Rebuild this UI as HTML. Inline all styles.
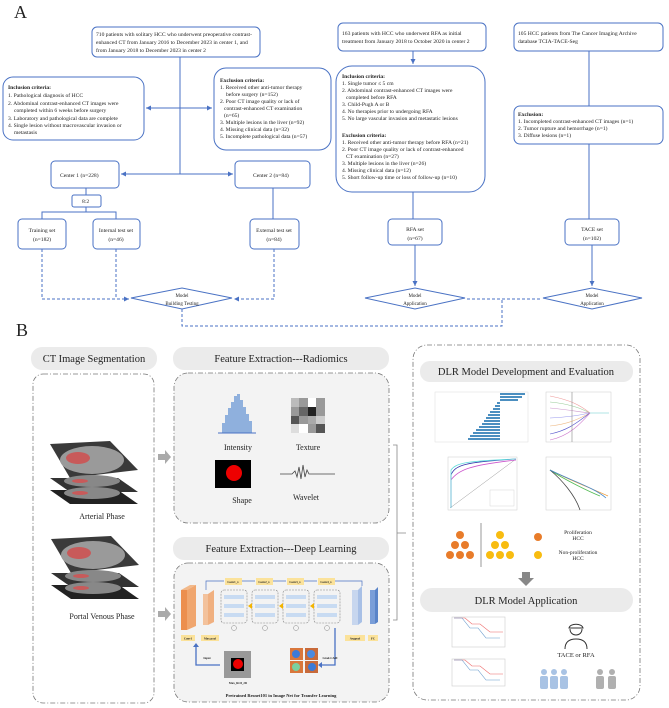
<!DOCTYPE html>
<html><head><meta charset="utf-8"><style>
html,body{margin:0;padding:0;background:#fff}
svg{display:block}
text{font-family:"Liberation Serif",serif;fill:#222}
</style></head><body>
<svg width="669" height="708" viewBox="0 0 669 708" xmlns="http://www.w3.org/2000/svg">
<defs>
<marker id="ar" markerWidth="6" markerHeight="6" refX="5" refY="3" orient="auto"><path d="M0,0.5 L5,3 L0,5.5 z" fill="#4a72c4"/></marker>
</defs>
<text x="14" y="18" font-size="18">A</text>
<g fill="#fff" stroke="#4a72c4" stroke-width="1">
<rect x="92" y="27" width="168" height="30" rx="5"/>
<rect x="3" y="77" width="141" height="63" rx="10"/>
<rect x="214" y="68" width="117" height="82" rx="12"/>
<rect x="51" y="161" width="68" height="27" rx="4"/>
<rect x="235" y="161" width="75" height="27" rx="4"/>
<rect x="72" y="195" width="29" height="12" rx="2"/>
<rect x="18" y="219" width="48" height="30" rx="4"/>
<rect x="93" y="219" width="47" height="30" rx="4"/>
<rect x="250" y="219" width="49" height="30" rx="4"/>
<rect x="338" y="23" width="148" height="28" rx="5"/>
<rect x="336" y="66" width="149" height="126" rx="16"/>
<rect x="388" y="219" width="54" height="26" rx="4"/>
<rect x="514" y="23" width="149" height="28" rx="5"/>
<rect x="514" y="106" width="149" height="38" rx="6"/>
<rect x="565" y="219" width="54" height="26" rx="4"/>
<polygon points="131,298 182,288 232,298 182,309"/>
<polygon points="365,298 415,288 465,298 415,309"/>
<polygon points="543,298 592,288 642,298 592,309"/>
</g>
<g stroke="#4a72c4" stroke-width="1" fill="none">
<line x1="180" y1="57" x2="180" y2="174"/>
<line x1="180" y1="108" x2="146" y2="108" marker-end="url(#ar)"/>
<line x1="180" y1="108" x2="212" y2="108" marker-end="url(#ar)"/>
<line x1="180" y1="174" x2="121" y2="174" marker-end="url(#ar)"/>
<line x1="180" y1="174" x2="233" y2="174" marker-end="url(#ar)"/>
<line x1="86" y1="188" x2="86" y2="195"/>
<path d="M86,207 V212 M42,219 V212 H116 V219"/>
<line x1="273" y1="188" x2="273" y2="219"/>
<line x1="413" y1="51" x2="413" y2="64" marker-end="url(#ar)"/>
<line x1="413" y1="192" x2="413" y2="219"/>
<line x1="589" y1="51" x2="589" y2="106"/>
<line x1="589" y1="144" x2="589" y2="219"/>
<line x1="415" y1="245" x2="415" y2="286" marker-end="url(#ar)"/>
<line x1="592" y1="245" x2="592" y2="286" marker-end="url(#ar)"/>
<g stroke-dasharray="3,2">
<path d="M42,249 V299 H129" marker-end="url(#ar)"/>
<path d="M116,249 V299"/>
<path d="M274,249 V299 H234" marker-end="url(#ar)"/>
<path d="M182,309 V326 H502 V299"/>
<path d="M467,299 H541"/>
</g>
</g>
<g font-size="5.6">
<text x="96" y="36">710 patients with solitary HCC who underwent preoperative contrast-</text>
<text x="96" y="44">enhanced CT from January 2016 to December 2023 in center 1,  and</text>
<text x="96" y="52">from January 2018 to December 2023 in center 2</text>
<text x="8" y="89" font-weight="bold">Inclusion criteria:</text>
<text x="8" y="97">1. Pathological diagnosis of HCC</text>
<text x="8" y="105">2. Abdominal contrast-enhanced CT images were</text>
<text x="14" y="112">completed within 6 weeks before surgery</text>
<text x="8" y="120">3. Laboratory and pathological data are complete</text>
<text x="8" y="127">4. Single lesion without macrovascular invasion or</text>
<text x="14" y="134">metastasis</text>
<text x="220" y="82" font-weight="bold">Exclusion criteria:</text>
<text x="220" y="89">1. Received other anti-tumor therapy</text>
<text x="226" y="96">before surgery (n=152)</text>
<text x="220" y="103">2. Poor CT image quality or lack of</text>
<text x="224" y="110">contrast-enhanced CT examination</text>
<text x="224" y="117">(n=65)</text>
<text x="220" y="124">3. Multiple lesions in the liver (n=92)</text>
<text x="220" y="131">4. Missing clinical data (n=32)</text>
<text x="220" y="138">5. Incomplete pathological data (n=57)</text>
<text x="60" y="177">Center 1   (n=228)</text>
<text x="253" y="177">Center 2 (n=84)</text>
<text x="82" y="203">8:2</text>
<text x="42" y="232" text-anchor="middle">Training set</text>
<text x="42" y="241" text-anchor="middle">(n=182)</text>
<text x="116" y="232" text-anchor="middle">Internal test set</text>
<text x="116" y="241" text-anchor="middle">(n=46)</text>
<text x="274" y="232" text-anchor="middle">External test set</text>
<text x="274" y="241" text-anchor="middle">(n=84)</text>
<text x="342" y="35">163 patients with HCC who underwent RFA as initial</text>
<text x="342" y="43">treatment from January 2018 to October 2020 in center 2</text>
<text x="342" y="78" font-weight="bold">Inclusion criteria:</text>
<text x="342" y="85">1. Single tumor ≤ 5 cm</text>
<text x="342" y="92">2. Abdominal contrast-enhanced CT images were</text>
<text x="346" y="99">completed before RFA</text>
<text x="342" y="106">3. Child-Pugh A or B</text>
<text x="342" y="113">4. No therapies prior to undergoing RFA</text>
<text x="342" y="120">5. No large vascular invasion and metastatic lesions</text>
<text x="342" y="137" font-weight="bold">Exclusion criteria:</text>
<text x="342" y="144">1. Received other anti-tumor therapy before RFA (n=21)</text>
<text x="342" y="151">2. Poor CT image quality or lack of contrast-enhanced</text>
<text x="346" y="158">CT examination (n=27)</text>
<text x="342" y="165">3. Multiple lesions in the liver (n=26)</text>
<text x="342" y="172">4. Missing clinical data (n=12)</text>
<text x="342" y="179">5. Short follow-up time or loss of follow-up (n=10)</text>
<text x="518" y="35">105 HCC patients from The Cancer Imaging Archive</text>
<text x="518" y="43">database TCIA-TACE-Seg</text>
<text x="518" y="116" font-weight="bold">Exclusion:</text>
<text x="518" y="123">1. Incompleted contrast-enhanced CT images (n=1)</text>
<text x="518" y="130">2. Tumor rupture and hemorrhage  (n=1)</text>
<text x="518" y="137">3. Diffuse lesions (n=1)</text>
<text x="415" y="231" text-anchor="middle">RFA set</text>
<text x="415" y="240" text-anchor="middle">(n=67)</text>
<text x="592" y="231" text-anchor="middle">TACE set</text>
<text x="592" y="240" text-anchor="middle">(n=102)</text>
<text x="182" y="297" text-anchor="middle" font-size="5">Model</text>
<text x="182" y="305" text-anchor="middle" font-size="5">Building Testing</text>
<text x="415" y="297" text-anchor="middle" font-size="5">Model</text>
<text x="415" y="305" text-anchor="middle" font-size="5">Application</text>
<text x="592" y="297" text-anchor="middle" font-size="5">Model</text>
<text x="592" y="305" text-anchor="middle" font-size="5">Application</text>
</g>

<!-- Panel B -->
<text x="16" y="336" font-size="18">B</text>
<g stroke="#777" stroke-width="0.8" stroke-dasharray="5,2,1,2">
<rect x="33" y="374" width="121" height="329" rx="10" fill="#fff"/>
<rect x="174" y="373" width="215" height="150" rx="14" fill="#f3f3f3"/>
<rect x="174" y="563" width="215" height="139" rx="14" fill="#f3f3f3"/>
<rect x="413" y="345" width="227" height="355" rx="14" fill="#fff"/>
</g>
<g fill="#ebebeb">
<rect x="31" y="347" width="126" height="23" rx="11"/>
<rect x="173" y="347" width="216" height="23" rx="11"/>
<rect x="173" y="537" width="216" height="23" rx="11"/>
<rect x="420" y="361" width="213" height="21" rx="10"/>
<rect x="420" y="588" width="213" height="24" rx="12"/>
</g>
<g font-size="10.5" text-anchor="middle">
<text x="94" y="362">CT Image Segmentation</text>
<text x="281" y="362">Feature Extraction---Radiomics</text>
<text x="281" y="552">Feature Extraction---Deep Learning</text>
<text x="526" y="375">DLR Model Development and Evaluation</text>
<text x="526" y="604">DLR Model Application</text>
</g>
<!-- bracket -->
<path d="M393,445 H397 V620 H393 M397,533 H406" stroke="#888" fill="none" stroke-width="0.8"/>
<!-- gray arrows -->
<path d="M158,454 h7 v-4 l6,7 l-6,7 v-4 h-7z" fill="#aaa"/>
<path d="M158,611 h7 v-4 l6,7 l-6,7 v-4 h-7z" fill="#aaa"/>
<path d="M522,572 h8 v6 h4 l-8,8 l-8,-8 h4z" fill="#888"/>
<!-- CT stacks -->
<g>
<polygon points="50,490 118,490 138,504 70,504" fill="#222"/>
<polygon points="50,478 118,478 138,492 70,492" fill="#333"/>
<polygon points="50,444 110,441 138,470 70,478" fill="#3a3a3a"/>
<ellipse cx="92" cy="460" rx="32" ry="14" fill="#9a9a9a"/>
<ellipse cx="78" cy="458" rx="12" ry="6" fill="#c85a5a"/>
<ellipse cx="92" cy="481" rx="28" ry="6" fill="#888"/>
<ellipse cx="80" cy="481" rx="8" ry="2" fill="#c85a5a"/>
<ellipse cx="92" cy="493" rx="28" ry="6" fill="#888"/>
<ellipse cx="80" cy="493" rx="8" ry="2" fill="#c85a5a"/>
</g>
<g transform="translate(1,95)">
<polygon points="50,490 118,490 138,504 70,504" fill="#222"/>
<polygon points="50,478 118,478 138,492 70,492" fill="#333"/>
<polygon points="50,444 110,441 138,470 70,478" fill="#3a3a3a"/>
<ellipse cx="92" cy="460" rx="32" ry="14" fill="#9a9a9a"/>
<ellipse cx="78" cy="458" rx="12" ry="6" fill="#c85a5a"/>
<ellipse cx="92" cy="481" rx="28" ry="6" fill="#888"/>
<ellipse cx="80" cy="481" rx="8" ry="2" fill="#c85a5a"/>
<ellipse cx="92" cy="493" rx="28" ry="6" fill="#888"/>
<ellipse cx="80" cy="493" rx="8" ry="2" fill="#c85a5a"/>
</g>
<g font-size="8" text-anchor="middle">
<text x="102" y="519">Arterial Phase</text>
<text x="102" y="619">Portal Venous Phase</text>
<text x="238" y="450">Intensity</text>
<text x="308" y="450">Texture</text>
<text x="242" y="503">Shape</text>
<text x="306" y="500">Wavelet</text>
</g>
<!-- histogram -->
<g fill="#8fb0dd">
<rect x="222" y="423" width="3" height="10"/><rect x="225" y="415" width="3" height="18"/><rect x="228" y="408" width="3" height="25"/>
<rect x="231" y="402" width="3" height="31"/><rect x="234" y="396" width="3" height="37"/><rect x="237" y="394" width="3" height="39"/>
<rect x="240" y="400" width="3" height="33"/><rect x="243" y="407" width="3" height="26"/><rect x="246" y="414" width="3" height="19"/>
<rect x="249" y="421" width="3" height="12"/>
</g>
<line x1="218" y1="433" x2="256" y2="433" stroke="#4a72c4"/>
<!-- texture -->
<g>
<rect x="291" y="398" width="34" height="35" fill="#999"/>
<rect x="291" y="398" width="8" height="9" fill="#bbb"/><rect x="308" y="398" width="8" height="9" fill="#fff"/>
<rect x="299" y="407" width="9" height="9" fill="#666"/><rect x="308" y="407" width="8" height="9" fill="#222"/>
<rect x="291" y="416" width="8" height="8" fill="#555"/><rect x="316" y="416" width="9" height="8" fill="#ccc"/>
<rect x="299" y="424" width="9" height="9" fill="#fff"/><rect x="316" y="424" width="9" height="9" fill="#555"/>
<rect x="291" y="424" width="8" height="9" fill="#ddd"/><rect x="308" y="416" width="8" height="8" fill="#aaa"/>
</g>
<rect x="215" y="460" width="36" height="28" fill="#000"/>
<circle cx="234" cy="473" r="8" fill="#e00"/>
<path d="M280,474 H292 l3,-3 l2,6 l2,-10 l2,12 l2,-14 l2,12 l2,-7 l2,4 H335" stroke="#444" fill="none" stroke-width="0.8"/>
<!-- DL network -->
<g>
<polygon points="181,590 190,585 196,585 187,590" fill="#f2b98a"/>
<rect x="181" y="590" width="6" height="40" fill="#ec8f4e"/>
<polygon points="187,590 196,585 196,626 187,630" fill="#f0a66e"/>
<rect x="203" y="594" width="5" height="31" fill="#f3c29c"/>
<polygon points="208,594 214,590 214,622 208,625" fill="#f0b080"/>
<rect x="352" y="590" width="6" height="35" fill="#c7d6ee"/>
<polygon points="358,590 362,586 362,622 358,625" fill="#a8c0e6"/>
<rect x="370" y="590" width="5" height="34" fill="#7a9ed8"/>
<polygon points="375,590 378,587 378,622 375,624" fill="#5a84c8"/>
<g fill="#fbe29a">
<rect x="181" y="635" width="14" height="6"/><rect x="201" y="635" width="18" height="6"/>
<rect x="345" y="635" width="20" height="6"/><rect x="368" y="635" width="10" height="6"/>
<rect x="225" y="578" width="17" height="7"/><rect x="256" y="578" width="17" height="7"/>
<rect x="287" y="578" width="17" height="7"/><rect x="318" y="578" width="17" height="7"/>
</g>
<g fill="none" stroke="#888" stroke-width="0.6" stroke-dasharray="2,1">
<rect x="221" y="590" width="26" height="33" rx="3"/><rect x="252" y="590" width="26" height="33" rx="3"/>
<rect x="283" y="590" width="26" height="33" rx="3"/><rect x="314" y="590" width="26" height="33" rx="3"/>
</g>
<g fill="#c8dbf2">
<rect x="224" y="595" width="20" height="4"/><rect x="224" y="604" width="20" height="4"/><rect x="224" y="613" width="20" height="4"/>
<rect x="255" y="595" width="20" height="4"/><rect x="255" y="604" width="20" height="4"/><rect x="255" y="613" width="20" height="4"/>
<rect x="286" y="595" width="20" height="4"/><rect x="286" y="604" width="20" height="4"/><rect x="286" y="613" width="20" height="4"/>
<rect x="317" y="595" width="20" height="4"/><rect x="317" y="604" width="20" height="4"/><rect x="317" y="613" width="20" height="4"/>
</g>
<g fill="none" stroke="#888" stroke-width="0.5">
<circle cx="234" cy="628" r="2.5"/><circle cx="265" cy="628" r="2.5"/><circle cx="296" cy="628" r="2.5"/><circle cx="327" cy="628" r="2.5"/>
</g>
<g fill="#f3b400"><path d="M248,606 l4,-3 v6z"/><path d="M279,606 l4,-3 v6z"/><path d="M310,606 l4,-3 v6z"/></g>
<path d="M206,590 V581 H224 M242,581 H255 M273,581 H286 M304,581 H317 M335,581 H362 V586" stroke="#4a72c4" fill="none" stroke-width="0.7"/>
<path d="M335,628 V665 H322" stroke="#4a72c4" fill="none" stroke-width="1.3"/>
<path d="M220,665 H196 V645" stroke="#4a72c4" fill="none" stroke-width="1.3"/>
<path d="M193,647 l3,-4 l3,4z M322,662 l-4,3 l4,3z" fill="#4a72c4"/>
<rect x="224" y="651" width="27" height="27" fill="#999"/>
<rect x="231" y="658" width="13" height="13" fill="#000"/>
<circle cx="238" cy="664" r="5" fill="#e00"/>
<rect x="290" y="648" width="13" height="12" fill="#d9773c"/><rect x="305" y="648" width="13" height="12" fill="#c86a3a"/>
<rect x="290" y="661" width="13" height="12" fill="#d9773c"/><rect x="305" y="661" width="13" height="12" fill="#c86a3a"/>
<circle cx="296" cy="654" r="4" fill="#3a7ad8"/><circle cx="311" cy="654" r="4" fill="#4a8ae0"/>
<circle cx="296" cy="667" r="4" fill="#7ad0a0"/><circle cx="312" cy="667" r="4" fill="#3a7ad8"/>
<g font-size="3" font-weight="bold" text-anchor="middle">
<text x="188" y="639.5">Conv1</text><text x="210" y="639.5">Max pool</text><text x="355" y="639.5">Avgpool</text><text x="373" y="639.5">FC</text>
<text x="233" y="583">Conv1_x</text><text x="264" y="583">Conv2_x</text><text x="295" y="583">Conv3_x</text><text x="326" y="583">Conv4_x</text>
<text x="207" y="659">Input</text><text x="238" y="684">Max_ROI_2D</text><text x="330" y="659">Grad-CAM</text>
</g>
<text x="281" y="697" font-size="4.5" font-weight="bold" text-anchor="middle">Pretrained Resnet101 in Image Net for Transfer Learning</text>
</g>
<!-- charts -->
<g>
<rect x="435" y="392" width="93" height="50" fill="#fff" stroke="#ddd" stroke-width="0.5"/>
<g fill="#4c8fc0">
<rect x="500" y="393" width="25" height="2"/><rect x="500" y="396" width="22" height="2"/><rect x="500" y="399" width="18" height="2"/>
<rect x="497" y="402" width="3" height="2"/><rect x="495" y="405" width="5" height="2"/><rect x="493" y="408" width="7" height="2"/>
<rect x="490" y="411" width="10" height="2"/><rect x="488" y="414" width="12" height="2"/><rect x="486" y="417" width="14" height="2"/>
<rect x="484" y="420" width="16" height="2"/><rect x="482" y="423" width="18" height="2"/><rect x="479" y="426" width="21" height="2"/>
<rect x="476" y="429" width="24" height="2"/><rect x="473" y="432" width="27" height="2"/><rect x="470" y="435" width="30" height="2"/><rect x="468" y="438" width="32" height="2"/>
</g>
<rect x="546" y="392" width="65" height="50" fill="#fff" stroke="#ccc" stroke-width="0.5"/>
<g fill="none" stroke-width="0.6">
<path d="M550,396 C570,400 580,405 590,413" stroke="#e99"/><path d="M550,402 C570,404 580,408 590,413" stroke="#9c9"/>
<path d="M550,408 C570,410 580,412 590,413" stroke="#c9c"/><path d="M550,418 C570,417 580,415 590,413" stroke="#99e"/>
<path d="M550,426 C570,424 580,418 590,413" stroke="#eb8"/><path d="M550,434 C570,430 580,420 590,413" stroke="#55c"/>
<path d="M550,440 C570,436 582,422 590,413" stroke="#c7c"/>
<line x1="572" y1="392" x2="572" y2="442" stroke="#888"/><line x1="590" y1="413" x2="609" y2="413" stroke="#6cc"/>
</g>
<rect x="448" y="457" width="69" height="53" fill="#fff" stroke="#ccc" stroke-width="0.5"/>
<line x1="450" y1="508" x2="516" y2="459" stroke="#999" stroke-width="0.5"/>
<g fill="none" stroke-width="0.8">
<path d="M451,508 V475 C455,465 465,462 516,459" stroke="#33a"/>
<path d="M451,508 V480 C458,470 470,465 516,460" stroke="#c5c"/>
<path d="M451,508 V470 C456,463 466,461 516,459" stroke="#6dd"/>
</g>
<rect x="490" y="490" width="24" height="16" fill="#fff" stroke="#ccc" stroke-width="0.4"/>
<rect x="546" y="457" width="65" height="53" fill="#fff" stroke="#ccc" stroke-width="0.5"/>
<g fill="none" stroke-width="0.8">
<path d="M550,470 C565,478 595,490 608,496" stroke="#e93"/><path d="M550,470 C565,480 590,492 600,496" stroke="#5b5"/>
<path d="M550,470 C562,480 575,495 580,510" stroke="#444"/><path d="M550,470 C570,480 595,488 606,498" stroke="#48c"/>
</g>
</g>
<!-- circles -->
<g fill="#e87c2a">
<circle cx="460" cy="535" r="4"/><circle cx="455" cy="545" r="4"/><circle cx="465" cy="545" r="4"/>
<circle cx="450" cy="555" r="4"/><circle cx="460" cy="555" r="4"/><circle cx="470" cy="555" r="4"/>
<circle cx="538" cy="537" r="4"/>
</g>
<line x1="481" y1="523" x2="481" y2="567" stroke="#999"/>
<g fill="#f8bc10">
<circle cx="500" cy="535" r="4"/><circle cx="495" cy="545" r="4"/><circle cx="505" cy="545" r="4"/>
<circle cx="490" cy="555" r="4"/><circle cx="500" cy="555" r="4"/><circle cx="510" cy="555" r="4"/>
<circle cx="538" cy="555" r="4"/>
</g>
<g font-size="5.5" text-anchor="middle">
<text x="578" y="534">Proliferation</text><text x="578" y="540">HCC</text>
<text x="578" y="554">Non-proliferation</text><text x="578" y="560">HCC</text>
<text x="576" y="657" font-size="6.5">TACE or RFA</text>
</g>
<!-- KM -->
<g fill="none" stroke-width="0.6">
<rect x="452" y="617" width="53" height="30" stroke="#ccc" fill="#fff"/>
<path d="M454,618 H465 L472,624 H480 L490,632 H503" stroke="#e66"/>
<path d="M454,618 H462 L470,628 H478 L486,638 H500" stroke="#69c"/>
<rect x="452" y="659" width="53" height="27" stroke="#ccc" fill="#fff"/>
<path d="M454,660 H465 L472,666 H480 L490,674 H503" stroke="#e66"/>
<path d="M454,660 H462 L470,670 H478 L486,680 H500" stroke="#69c"/>
</g>
<!-- doctor -->
<g fill="none" stroke="#333" stroke-width="1">
<path d="M569,628 C570,623 582,623 583,628 Z"/>
<path d="M570,629 C570,637 582,637 582,629"/>
<path d="M565,649 C565,641 570,639 576,639 C582,639 587,641 587,649"/>
</g>
<!-- people -->
<g fill="#a9c3e4">
<circle cx="544" cy="672" r="3"/><rect x="540" y="676" width="8" height="13" rx="2"/>
<circle cx="554" cy="672" r="3"/><rect x="550" y="676" width="8" height="13" rx="2"/>
<circle cx="564" cy="672" r="3"/><rect x="560" y="676" width="8" height="13" rx="2"/>
</g>
<g fill="#b0b0b0">
<circle cx="600" cy="672" r="3"/><rect x="596" y="676" width="8" height="13" rx="2"/>
<circle cx="612" cy="672" r="3"/><rect x="608" y="676" width="8" height="13" rx="2"/>
</g>
</svg>
</body></html>
